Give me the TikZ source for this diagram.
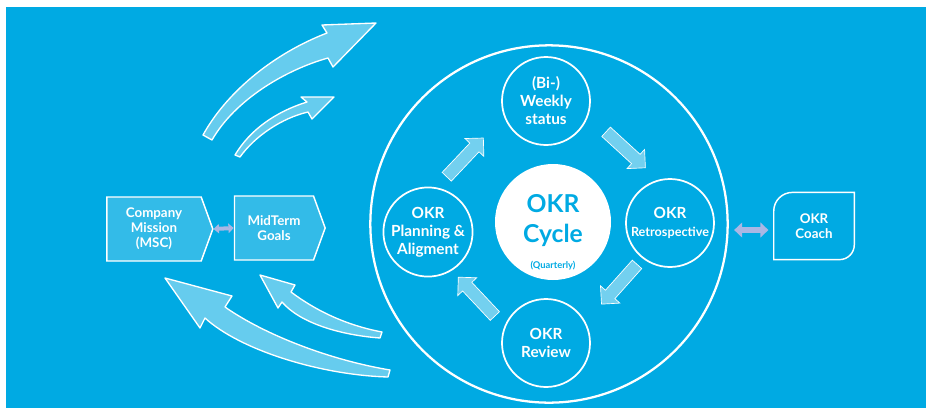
\documentclass[tikz,border=0pt]{standalone}
\usepackage{fontspec}
\setmainfont{Lato}
\usetikzlibrary{shapes.symbols,shapes.arrows,arrows.meta}

\definecolor{okrblue}{RGB}{0,170,227}
\definecolor{arrowlav}{RGB}{170,183,228}

\tikzset{
  goalbox/.style={signal, signal to=east, signal from=nowhere, signal pointer angle=140,
    draw=white, line width=1.1pt, fill=white, fill opacity=0.2, text opacity=1, text=white,
    align=center, minimum height=48pt, inner sep=0pt,
    font=\fontsize{10}{11.25}\selectfont\bfseries},
  stepcircle/.style={circle, draw=white, line width=1.3pt, minimum size=66pt, inner sep=0pt,
    text=white, align=center, font=\fontsize{11.5}{13.5}\selectfont\bfseries},
  cyclearrow/.style={single arrow, draw=white, line width=0.5pt, fill=white, fill opacity=0.45,
    minimum height=40pt, inner xsep=0pt, inner ysep=4.5pt, single arrow head extend=5pt,
    sloped, allow upside down},
  swoosh/.style={draw=white, line width=1pt, fill=white, fill opacity=0.4, line join=round},
  linkarrow/.style={draw=arrowlav, line width=#1},
}

\begin{document}
\begin{tikzpicture}[x=0.75pt, y=-0.75pt]
  \useasboundingbox (0,0) rectangle (926,408);
  \fill[white] (0,0) rectangle (926,408);
  \fill[okrblue] (6,7) rectangle (926,408);

  % the quarterly cycle
  \node[circle, draw=white, line width=1.7pt, minimum size=268pt] (ring) at (549,224) {};
  \node[circle, fill=white, minimum size=87pt] (cycle) at (553,222) {};
  \node[text=okrblue, align=center, font=\fontsize{18.5}{23}\selectfont\bfseries] (cyclelabel) at (553,232)
    {OKR\\Cycle\\[-4pt]{\fontsize{7}{8}\selectfont(Quarterly)}};

  \node[stepcircle] (weekly) at (546,101) {(Bi-)\\Weekly\\status};
  \node[stepcircle] (retro) at (670,223) {OKR\\{\fontsize{9.5}{13}\selectfont Retrospective}};
  \node[stepcircle] (review) at (546,343) {OKR\\Review};
  \node[stepcircle] (plan) at (428,232) {OKR\\Planning \&\\Aligment};

  \path (plan.79) -- node[cyclearrow, pos=0.39] (toweekly) {} (weekly.200);
  \path (weekly.341) -- node[cyclearrow, pos=0.5] (toretro) {} (retro.105);
  \path (retro.232) -- node[cyclearrow, pos=0.37] (toreview) {} (review.28);
  \path (review.158) -- node[cyclearrow, pos=0.49] (toplan) {} (plan.302);

  % mission and goals
  \node[goalbox, minimum width=79.5pt] (mission) at (154,229) {Company\\Mission\\(MSC)};
  \node[goalbox, minimum width=68pt] (midterm) at (274,228) {MidTerm\\Goals};
  \draw[linkarrow=3pt, {Triangle[length=4pt,width=7pt]}-{Triangle[length=4pt,width=7pt]}]
    (mission.east) -- (midterm.west);

  % coach
  \node[minimum width=60pt, minimum height=50pt, text=white, align=center,
    font=\fontsize{10}{11.25}\selectfont\bfseries] (coach) at (814,226) {OKR\\Coach};
  \draw[white, line width=1.1pt] (coach.south west) -- ([yshift=-14pt]coach.north west)
    arc[start angle=180, end angle=90, radius=14pt] -- (coach.north east)
    -- ([yshift=11pt]coach.south east) arc[start angle=0, end angle=-90, radius=11pt] -- cycle;
  \draw[linkarrow=4pt, {Triangle[length=6pt,width=11pt]}-{Triangle[length=6pt,width=11pt]},
    shorten <=4pt, shorten >=4pt] ([yshift=-3pt]ring.east |- coach.west) -- ([yshift=-3pt]coach.west);

  % swooshes
  \draw[swoosh] (203,135) .. controls (225,95) and (270,55) .. (327,33) -- (322,25) -- (376,23)
    -- (333,67) -- (328,58) .. controls (285,70) and (235,100) .. (212,140) -- cycle;
  \draw[swoosh] (235,155) .. controls (250,130) and (275,112) .. (307,102) -- (301,97) -- (334,97)
    -- (312,119) -- (308,112) .. controls (282,118) and (255,136) .. (240,157) -- cycle;
  \draw[swoosh] (165,278) -- (232,296) -- (225,307) .. controls (265,335) and (330,360) .. (390,370)
    -- (388,377) .. controls (320,375) and (240,350) .. (205,318) -- (200,328) -- cycle;
  \draw[swoosh] (260,275) -- (295,285) -- (291,292) .. controls (315,310) and (345,325) .. (382,332)
    -- (380,338) .. controls (340,335) and (300,323) .. (282,302) -- (278,308) -- cycle;
\end{tikzpicture}
\end{document}
